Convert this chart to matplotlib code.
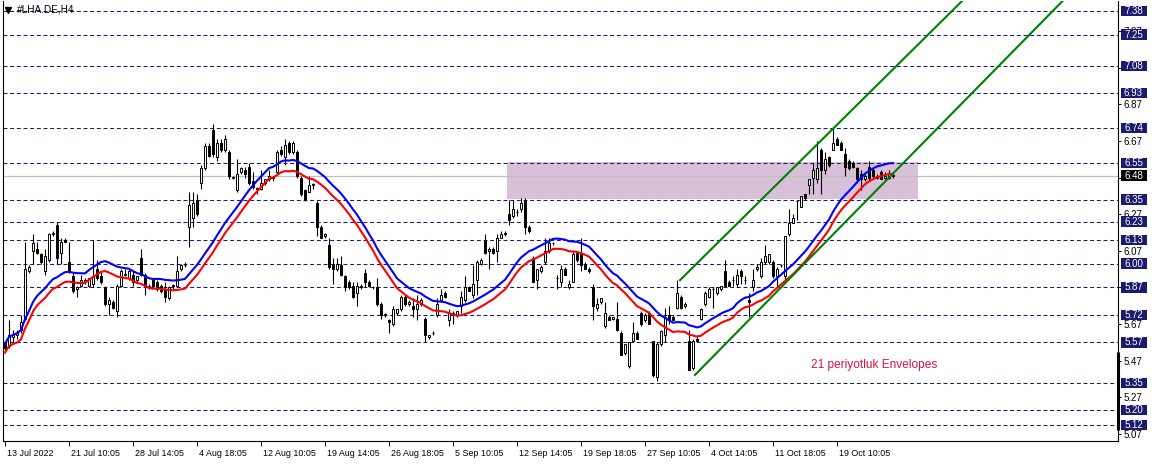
import numpy as np
import pandas as pd
import matplotlib
matplotlib.use("Agg")
import matplotlib.pyplot as plt
from matplotlib.patches import Rectangle
from matplotlib.lines import Line2D
import matplotlib.transforms as mtransforms

plt.rcParams['font.family'] = ['Liberation Sans', 'DejaVu Sans']

# ---------------- data (H4 candles, #LHA.DE) ----------------
opens = [
    5.57, 5.55, 5.60, 5.61, 5.64, 5.70, 5.96, 6.07, 6.08, 6.05,
    5.96, 6.02, 6.16, 6.21, 6.06, 6.13, 6.01, 5.93, 5.86, 5.88,
    5.90, 5.88, 5.89, 5.97, 5.93, 5.87, 5.78, 5.79, 5.74, 5.88,
    5.94, 5.92, 5.94, 5.91, 6.03, 5.94, 5.88, 5.91, 5.90, 5.88,
    5.86, 5.81, 5.88, 5.88, 5.97, 5.99, 6.20, 6.25, 6.35, 6.44,
    6.52, 6.64, 6.73, 6.58, 6.66, 6.62, 6.61, 6.47, 6.40, 6.50,
    6.51, 6.53, 6.45, 6.41, 6.41, 6.44, 6.46, 6.47, 6.50, 6.62,
    6.58, 6.66, 6.61, 6.61, 6.47, 6.40, 6.39, 6.43, 6.33, 6.20,
    6.15, 6.10, 6.00, 5.97, 5.99, 5.93, 5.90, 5.88, 5.84, 5.87,
    5.95, 5.90, 5.87, 5.87, 5.78, 5.72, 5.69, 5.67, 5.73, 5.75,
    5.82, 5.78, 5.77, 5.75, 5.78, 5.70, 5.60, 5.62, 5.72, 5.80,
    5.84, 5.69, 5.72, 5.72, 5.77, 5.80, 5.87, 5.83, 5.91, 6.00,
    6.13, 6.07, 6.08, 6.07, 6.14, 6.16, 6.27, 6.26, 6.28, 6.30,
    6.34, 6.20, 6.03, 5.91, 5.96, 6.01, 6.07, 6.11, 5.92, 5.90,
    5.97, 5.87, 5.90, 6.06, 6.05, 6.00, 5.97, 5.87, 5.76, 5.79,
    5.66, 5.71, 5.70, 5.70, 5.62, 5.51, 5.44, 5.58, 5.62, 5.73,
    5.69, 5.73, 5.58, 5.38, 5.56, 5.61, 5.72, 5.71, 5.76, 5.82,
    5.77, 5.58, 5.43, 5.59, 5.70, 5.78, 5.82, 5.86, 5.84, 5.86,
    5.96, 5.90, 5.91, 5.89, 5.96, 5.91, 5.80, 5.87, 5.97, 5.93,
    6.01, 6.01, 6.01, 5.93, 5.99, 5.93, 6.16, 6.22, 6.34, 6.31,
    6.38, 6.43, 6.47, 6.46, 6.62, 6.51, 6.58, 6.62, 6.68, 6.66,
    6.60, 6.56, 6.55, 6.52, 6.49, 6.46, 6.53, 6.51, 6.47, 6.50,
    6.47, 6.47, 6.48,
]
highs = [
    5.58, 5.69, 5.64, 5.64, 5.72, 6.12, 5.99, 6.16, 6.12, 6.06,
    6.08, 6.17, 6.18, 6.23, 6.14, 6.14, 6.12, 5.95, 5.88, 5.94,
    5.92, 5.92, 6.13, 6.02, 5.96, 5.88, 5.82, 5.80, 5.89, 5.97,
    5.97, 5.97, 5.96, 5.93, 6.08, 5.95, 5.89, 5.92, 5.91, 5.89,
    5.90, 5.88, 5.89, 6.04, 6.00, 6.01, 6.39, 6.39, 6.38, 6.54,
    6.66, 6.66, 6.76, 6.68, 6.68, 6.70, 6.62, 6.48, 6.57, 6.53,
    6.53, 6.55, 6.50, 6.42, 6.51, 6.46, 6.51, 6.48, 6.62, 6.64,
    6.68, 6.67, 6.67, 6.62, 6.48, 6.41, 6.48, 6.44, 6.34, 6.21,
    6.17, 6.14, 6.03, 6.03, 6.04, 5.94, 5.91, 5.90, 5.90, 5.89,
    5.97, 5.91, 5.88, 5.92, 5.79, 5.73, 5.70, 5.77, 5.75, 5.83,
    5.83, 5.80, 5.81, 5.83, 5.81, 5.71, 5.61, 5.63, 5.81, 5.86,
    5.85, 5.75, 5.74, 5.74, 5.85, 5.93, 5.88, 5.99, 6.02, 6.03,
    6.16, 6.09, 6.09, 6.16, 6.18, 6.18, 6.35, 6.35, 6.30, 6.36,
    6.36, 6.21, 6.04, 5.97, 5.99, 6.14, 6.14, 6.12, 5.94, 5.99,
    5.98, 5.91, 6.07, 6.07, 6.14, 6.01, 5.98, 5.89, 5.81, 5.81,
    5.79, 5.72, 5.71, 5.79, 5.63, 5.56, 5.57, 5.68, 5.63, 5.74,
    5.73, 5.74, 5.58, 5.57, 5.64, 5.76, 5.77, 5.72, 5.91, 5.83,
    5.79, 5.64, 5.59, 5.61, 5.76, 5.85, 5.87, 5.87, 5.87, 5.88,
    6.02, 5.91, 5.93, 5.97, 5.97, 5.93, 5.84, 5.97, 6.00, 6.03,
    6.10, 6.05, 6.02, 5.98, 6.00, 6.15, 6.30, 6.27, 6.34, 6.37,
    6.38, 6.46, 6.55, 6.67, 6.63, 6.61, 6.59, 6.74, 6.69, 6.67,
    6.63, 6.57, 6.56, 6.53, 6.51, 6.49, 6.56, 6.52, 6.49, 6.51,
    6.50, 6.51, 6.50,
]
lows = [
    5.53, 5.54, 5.56, 5.59, 5.62, 5.69, 5.95, 6.00, 6.05, 6.00,
    5.94, 6.01, 6.15, 6.00, 6.00, 6.12, 5.95, 5.84, 5.82, 5.87,
    5.89, 5.87, 5.87, 5.91, 5.89, 5.77, 5.72, 5.75, 5.71, 5.87,
    5.93, 5.91, 5.88, 5.90, 5.93, 5.83, 5.86, 5.87, 5.85, 5.84,
    5.79, 5.80, 5.86, 5.87, 5.96, 5.98, 6.09, 6.20, 6.26, 6.41,
    6.51, 6.58, 6.58, 6.56, 6.61, 6.61, 6.46, 6.46, 6.39, 6.49,
    6.47, 6.43, 6.41, 6.38, 6.40, 6.43, 6.45, 6.45, 6.49, 6.59,
    6.54, 6.60, 6.60, 6.47, 6.37, 6.34, 6.39, 6.41, 6.15, 6.14,
    6.14, 5.97, 5.89, 5.96, 5.93, 5.85, 5.86, 5.81, 5.77, 5.86,
    5.87, 5.87, 5.86, 5.77, 5.70, 5.71, 5.62, 5.66, 5.72, 5.74,
    5.77, 5.77, 5.71, 5.69, 5.77, 5.57, 5.59, 5.61, 5.71, 5.79,
    5.81, 5.66, 5.67, 5.71, 5.73, 5.79, 5.85, 5.81, 5.83, 5.99,
    6.05, 5.97, 6.05, 6.01, 6.14, 6.15, 6.21, 6.25, 6.26, 6.28,
    6.16, 6.17, 5.90, 5.86, 5.95, 6.00, 6.06, 6.10, 5.86, 5.87,
    5.94, 5.86, 5.90, 6.01, 5.96, 5.97, 5.95, 5.69, 5.74, 5.78,
    5.65, 5.69, 5.69, 5.63, 5.50, 5.50, 5.43, 5.58, 5.59, 5.66,
    5.68, 5.67, 5.38, 5.36, 5.55, 5.57, 5.67, 5.69, 5.75, 5.75,
    5.76, 5.42, 5.42, 5.57, 5.69, 5.77, 5.81, 5.76, 5.83, 5.85,
    5.87, 5.88, 5.88, 5.87, 5.89, 5.89, 5.71, 5.85, 5.96, 5.92,
    6.00, 6.00, 5.92, 5.87, 5.98, 5.91, 6.15, 6.22, 6.24, 6.31,
    6.35, 6.38, 6.38, 6.44, 6.38, 6.49, 6.53, 6.62, 6.65, 6.62,
    6.48, 6.51, 6.52, 6.44, 6.40, 6.45, 6.45, 6.47, 6.46, 6.46,
    6.46, 6.46, 6.47,
]
closes = [
    5.54, 5.61, 5.61, 5.62, 5.68, 5.97, 5.98, 6.11, 6.06, 6.01,
    6.04, 6.16, 6.17, 6.03, 6.12, 6.12, 5.96, 5.85, 5.87, 5.91,
    5.91, 5.92, 5.93, 5.92, 5.90, 5.78, 5.80, 5.76, 5.88, 5.96,
    5.94, 5.96, 5.90, 5.93, 5.94, 5.88, 5.87, 5.88, 5.86, 5.85,
    5.82, 5.87, 5.88, 5.96, 5.99, 5.99, 6.32, 6.33, 6.27, 6.52,
    6.64, 6.59, 6.60, 6.66, 6.62, 6.68, 6.48, 6.47, 6.49, 6.52,
    6.49, 6.44, 6.42, 6.41, 6.44, 6.46, 6.48, 6.47, 6.61, 6.60,
    6.65, 6.61, 6.66, 6.48, 6.38, 6.35, 6.43, 6.43, 6.20, 6.14,
    6.16, 5.98, 5.97, 6.00, 5.94, 5.87, 5.87, 5.82, 5.88, 5.88,
    5.90, 5.88, 5.87, 5.78, 5.72, 5.72, 5.68, 5.75, 5.75, 5.82,
    5.78, 5.79, 5.75, 5.78, 5.80, 5.61, 5.61, 5.62, 5.78, 5.83,
    5.82, 5.73, 5.73, 5.74, 5.82, 5.87, 5.85, 5.89, 6.01, 6.02,
    6.06, 6.08, 6.06, 6.14, 6.16, 6.17, 6.24, 6.30, 6.28, 6.33,
    6.20, 6.18, 5.90, 5.97, 5.98, 6.07, 6.11, 6.11, 5.92, 5.97,
    5.94, 5.89, 6.05, 6.02, 5.99, 5.97, 5.96, 5.77, 5.78, 5.81,
    5.73, 5.69, 5.71, 5.64, 5.50, 5.56, 5.57, 5.62, 5.59, 5.67,
    5.72, 5.67, 5.39, 5.56, 5.63, 5.71, 5.69, 5.69, 5.84, 5.76,
    5.78, 5.42, 5.58, 5.58, 5.75, 5.84, 5.86, 5.86, 5.87, 5.88,
    5.88, 5.88, 5.91, 5.94, 5.93, 5.91, 5.79, 5.91, 5.98, 6.01,
    6.04, 6.05, 5.93, 5.97, 5.99, 6.15, 6.22, 6.25, 6.34, 6.37,
    6.36, 6.46, 6.51, 6.52, 6.51, 6.57, 6.54, 6.66, 6.65, 6.62,
    6.53, 6.52, 6.53, 6.46, 6.46, 6.48, 6.47, 6.48, 6.48, 6.46,
    6.48, 6.49, 6.48,
]

date_labels = ["13 Jul 2022", "21 Jul 10:05", "28 Jul 14:05", "4 Aug 18:05",
               "12 Aug 10:05", "19 Aug 14:05", "26 Aug 18:05", "5 Sep 10:05",
               "12 Sep 14:05", "19 Sep 18:05", "27 Sep 10:05", "4 Oct 14:05",
               "11 Oct 18:05", "19 Oct 10:05"]
label_bars = [0, 16, 32, 48, 64, 80, 96, 112, 128, 144, 160, 176, 192, 208]

level_prices = [7.38, 7.25, 7.08, 6.93, 6.74, 6.55, 6.35, 6.23, 6.13, 6.00,
                5.87, 5.72, 5.57, 5.35, 5.20, 5.12]
scale_ticks = [5.07, 5.27, 5.47, 5.67, 5.87, 6.07, 6.27, 6.47, 6.67, 6.87, 7.07, 7.27]
last_price = 6.48

env_period = 21
env_deviation = 0.0045

zone_bars = [125.5, 228.25]
zone_prices = [6.352, 6.555]

channel_start_bars = [168.75, 172.5]
channel_start_prices = [5.91, 5.393]
channel_slopes = [0.0216, 0.0222]   # price per bar

# ---------------- figure ----------------
W, H = 1158, 467
fig = plt.figure(figsize=(W / 100, H / 100), dpi=100)
fig.patch.set_facecolor('white')
ax = fig.add_axes([3 / W, 26 / H, (1118 - 3) / W, (441 - 1) / H])
ax.set_facecolor('white')

n = len(closes)
xs = np.arange(n)
o = np.array(opens); h = np.array(highs); l = np.array(lows); c = np.array(closes)

ymin, ymax = 5.0325, 7.433
ax.set_xlim(-0.5, 278.25)
ax.set_ylim(ymin, ymax)
px_per_price = 440 / (ymax - ymin)

# zone rectangle
ax.add_patch(Rectangle((zone_bars[0], zone_prices[0]), zone_bars[1] - zone_bars[0],
                       zone_prices[1] - zone_prices[0], facecolor='#D8C0D8',
                       edgecolor='none', zorder=0.5))

# dashed price levels
for lv in level_prices:
    ax.axhline(lv, color='#1a1a6e', lw=0.75, ls=(0, (3.8, 2.6)), zorder=1)
ax.axhline(last_price, color='#C0C0C0', lw=0.9, zorder=1.2)

# candles
ax.vlines(xs, l, h, color='black', lw=0.8, zorder=3)
body_bottom = np.minimum(o, c)
body_h = np.maximum(np.abs(c - o), 0.003)
face = ['black' if cc < oo else 'white' for oo, cc in zip(o, c)]
ax.bar(xs, body_h, bottom=body_bottom, width=0.62, color=face,
       edgecolor='black', linewidth=0.7, zorder=3.5)

# envelopes (21-period moving average envelope)
ma = pd.Series(c).rolling(env_period, min_periods=1).mean().values
ax.plot(xs, ma * (1 + env_deviation), color='#0000FF', lw=1.5, zorder=4)
ax.plot(xs, ma * (1 - env_deviation), color='#FF0000', lw=1.5, zorder=4)

# channel lines
for b0, p0, s in zip(channel_start_bars, channel_start_prices, channel_slopes):
    b1 = 300
    ax.plot([b0, b1], [p0, p0 + s * (b1 - b0)], color='#008000', lw=1.5, zorder=5)

ax.text(201.5, 5.447, "21 periyotluk Envelopes", color='#DC143C', fontsize=8.6,
        va='center', ha='left', zorder=6)

# spines
for s in ['left', 'bottom', 'right']:
    ax.spines[s].set_color('black')
    ax.spines[s].set_linewidth(0.8)
ax.spines['top'].set_visible(False)

# right scale (labels fully hidden under a price box are left blank)
ax.yaxis.tick_right()
ax.set_yticks(scale_ticks)
ax.set_yticklabels(["" if any(abs(v - lv) < 0.015 for lv in level_prices + [last_price])
                    else f"{v:.2f}" for v in scale_ticks])
ax.tick_params(axis='y', length=2.2, width=0.7, labelsize=7, pad=1.8,
               colors='black', left=False)

ytrans = mtransforms.blended_transform_factory(ax.transAxes, ax.transData)
axw_px = 1118 - 3
box_x0 = (1121 - 3) / axw_px
box_w = 25.5 / axw_px
box_half = 5.2 / px_per_price
box_cx = (1133.5 - 3) / axw_px


def price_box(value, fc):
    ax.add_patch(Rectangle((box_x0, value - box_half), box_w, 2 * box_half,
                           transform=ytrans, facecolor=fc, edgecolor='none',
                           clip_on=False, zorder=9))
    ax.text(box_cx, value, f"{value:.2f}", transform=ytrans, ha='center',
            va='center', color='white', fontsize=7, zorder=10, clip_on=False)


for lv in level_prices:
    price_box(lv, '#1b1b6e')
price_box(last_price, 'black')
ax.plot([1, 1], [5.09, 5.52], transform=ytrans, color='black', lw=2.2,
        clip_on=False, zorder=9, solid_capstyle='butt')

# bottom scale
ax.set_xticks(label_bars)
ax.set_xticklabels(date_labels, ha='left')
ax.tick_params(axis='x', length=3.5, width=0.7, labelsize=6.4, pad=2.5, colors='black')
offset = mtransforms.ScaledTranslation(2 / 100, 0, fig.dpi_scale_trans)
for lab in ax.get_xticklabels():
    lab.set_transform(lab.get_transform() + offset)

# title
fig.text(17 / W, 1 - 10 / H, "#LHA.DE,H4", fontsize=7.2, va='center', ha='left')
fig.add_artist(Line2D([8 / W], [1 - 9.5 / H], marker='v', ms=4, color='black',
                      transform=fig.transFigure))

fig.savefig("out.png", dpi=100, facecolor='white')
